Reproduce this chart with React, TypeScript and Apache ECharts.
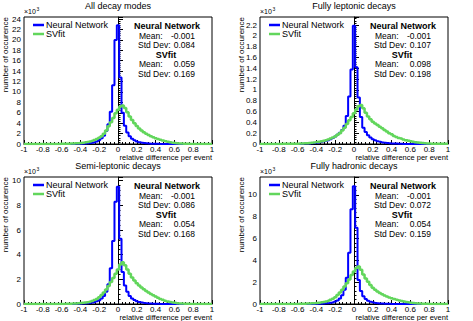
import React, { useEffect, useRef } from "react";
import * as echarts from "echarts";

// Histogram binning: 81 bins of width 0.025 centred on -1 ... 1
const BIN_MIN = -1;
const BIN_WIDTH = 0.025;

const TITLES = ["All decay modes", "Fully leptonic decays", "Semi-leptonic decays", "Fully hadronic decays"];
const SERIES_NAMES = ["Neural Network", "SVfit"];
const X_TICK_INTERVAL = 0.2;
const Y_MAX = [24.4, 2.35, 10.3, 11.65];
const Y_TICK_INTERVAL = [2, 0.2, 2, 2];

const NN_MEAN = ["-0.001", "-0.001", "-0.001", "-0.001"];
const NN_STD = ["0.084", "0.107", "0.086", "0.072"];
const SV_MEAN = ["0.059", "0.098", "0.054", "0.054"];
const SV_STD = ["0.169", "0.198", "0.168", "0.159"];

// counts in units of 10^3
const NN_ALL = [
  0, 0, 0, 0, 0, 0, 0, 0, 0, 0,
  0, 0, 0, 0, 0, 0, 0.01, 0.01, 0.01, 0.02,
  0.02, 0.02, 0.03, 0.04, 0.05, 0.07, 0.1, 0.13, 0.18, 0.25,
  0.35, 0.5, 0.75, 1.1, 1.6, 2.5, 3.8, 6.2, 11.3, 20.0,
  22.8, 12.8, 6.0, 3.5, 2.2, 1.5, 1.0, 0.7, 0.5, 0.35,
  0.25, 0.18, 0.13, 0.1, 0.07, 0.05, 0.04, 0.03, 0.02, 0.02,
  0.01, 0.01, 0.01, 0.01, 0, 0, 0, 0, 0, 0,
  0, 0, 0, 0, 0, 0, 0, 0, 0, 0,
  0,
];
const SV_ALL = [
  0, 0, 0, 0, 0, 0, 0, 0, 0, 0,
  0, 0, 0.01, 0.01, 0.02, 0.02, 0.03, 0.04, 0.05, 0.06,
  0.08, 0.1, 0.13, 0.16, 0.2, 0.25, 0.32, 0.4, 0.5, 0.63,
  0.78, 0.95, 1.2, 1.5, 1.95, 2.6, 3.4, 4.2, 5.0, 5.9,
  6.6, 7.2, 7.4, 6.9, 6.1, 5.3, 4.6, 4.0, 3.45, 3.0,
  2.6, 2.27, 1.98, 1.72, 1.5, 1.3, 1.12, 0.95, 0.8, 0.66,
  0.54, 0.43, 0.34, 0.26, 0.2, 0.15, 0.11, 0.08, 0.06, 0.04,
  0.03, 0.02, 0.02, 0.01, 0.01, 0, 0, 0, 0, 0,
  0,
];
const NN_LEP = [
  0, 0, 0, 0, 0, 0, 0, 0, 0, 0,
  0, 0, 0, 0, 0, 0, 0, 0, 0.005, 0.008,
  0.01, 0.01, 0.015, 0.02, 0.025, 0.03, 0.04, 0.05, 0.06, 0.07,
  0.09, 0.11, 0.14, 0.17, 0.21, 0.26, 0.34, 0.52, 0.88, 1.38,
  2.19, 1.42, 0.86, 0.5, 0.3, 0.22, 0.16, 0.12, 0.09, 0.07,
  0.05, 0.04, 0.03, 0.025, 0.02, 0.015, 0.01, 0.01, 0.008, 0.005,
  0.005, 0, 0, 0, 0, 0, 0, 0, 0, 0,
  0, 0, 0, 0, 0, 0, 0, 0, 0, 0,
  0,
];
const SV_LEP = [
  0, 0, 0, 0, 0, 0, 0, 0, 0, 0,
  0.003, 0.003, 0.003, 0.003, 0.004, 0.005, 0.006, 0.008, 0.01, 0.012,
  0.015, 0.02, 0.025, 0.03, 0.035, 0.042, 0.05, 0.06, 0.07, 0.085,
  0.1, 0.12, 0.14, 0.17, 0.2, 0.25, 0.3, 0.37, 0.44, 0.5,
  0.57, 0.64, 0.7, 0.72, 0.66, 0.58, 0.51, 0.46, 0.41, 0.38,
  0.35, 0.32, 0.29, 0.26, 0.23, 0.2, 0.18, 0.15, 0.13, 0.11,
  0.1, 0.085, 0.07, 0.06, 0.05, 0.04, 0.033, 0.027, 0.022, 0.017,
  0.013, 0.01, 0.008, 0.006, 0.005, 0.004, 0.003, 0.003, 0.003, 0.003,
  0.003,
];
const NN_SEMI = [
  0, 0, 0, 0, 0, 0, 0, 0, 0, 0,
  0, 0, 0, 0, 0, 0, 0, 0, 0, 0,
  0.01, 0.01, 0.02, 0.02, 0.03, 0.04, 0.05, 0.07, 0.09, 0.12,
  0.16, 0.22, 0.3, 0.45, 0.65, 1.0, 1.6, 2.9, 5.1, 8.3,
  9.5, 5.3, 2.6, 1.5, 1.0, 0.65, 0.45, 0.32, 0.23, 0.17,
  0.12, 0.09, 0.07, 0.05, 0.04, 0.03, 0.02, 0.02, 0.01, 0.01,
  0.01, 0, 0, 0, 0, 0, 0, 0, 0, 0,
  0, 0, 0, 0, 0, 0, 0, 0, 0, 0,
  0,
];
const SV_SEMI = [
  0, 0, 0, 0, 0, 0, 0, 0, 0, 0,
  0, 0, 0, 0, 0, 0, 0.01, 0.01, 0.02, 0.02,
  0.03, 0.04, 0.05, 0.06, 0.08, 0.1, 0.12, 0.15, 0.19, 0.25,
  0.32, 0.4, 0.55, 0.74, 0.94, 1.18, 1.46, 1.78, 2.1, 2.45,
  2.8, 3.2, 3.38, 3.15, 2.8, 2.45, 2.15, 1.9, 1.68, 1.5,
  1.34, 1.19, 1.05, 0.93, 0.81, 0.7, 0.6, 0.5, 0.41, 0.34,
  0.27, 0.21, 0.16, 0.13, 0.1, 0.07, 0.05, 0.04, 0.03, 0.02,
  0.015, 0.01, 0.01, 0, 0, 0, 0, 0, 0, 0,
  0,
];
const NN_HAD = [
  0, 0, 0, 0, 0, 0, 0, 0, 0, 0,
  0, 0, 0, 0, 0, 0, 0, 0, 0, 0,
  0, 0, 0.01, 0.01, 0.02, 0.02, 0.03, 0.04, 0.06, 0.08,
  0.11, 0.15, 0.22, 0.32, 0.5, 0.8, 1.3, 2.4, 4.7, 8.7,
  10.8, 7.0, 2.2, 1.2, 0.7, 0.45, 0.3, 0.2, 0.14, 0.1,
  0.07, 0.05, 0.04, 0.03, 0.02, 0.02, 0.01, 0.01, 0, 0,
  0, 0, 0, 0, 0, 0, 0, 0, 0, 0,
  0, 0, 0, 0, 0, 0, 0, 0, 0, 0,
  0,
];
const SV_HAD = [
  0, 0, 0, 0, 0, 0, 0, 0, 0, 0,
  0, 0, 0, 0, 0, 0.01, 0.01, 0.02, 0.02, 0.03,
  0.04, 0.05, 0.06, 0.08, 0.1, 0.12, 0.15, 0.19, 0.24, 0.3,
  0.38, 0.48, 0.62, 0.82, 1.05, 1.3, 1.6, 1.9, 2.25, 2.65,
  2.97, 3.3, 3.43, 3.15, 2.7, 2.35, 2.05, 1.75, 1.5, 1.3,
  1.15, 1.0, 0.89, 0.78, 0.68, 0.6, 0.52, 0.45, 0.39, 0.33,
  0.28, 0.23, 0.19, 0.15, 0.12, 0.09, 0.07, 0.05, 0.04, 0.03,
  0.02, 0.02, 0.01, 0.01, 0, 0, 0, 0, 0, 0,
  0,
];

const NN_DATA = [NN_ALL, NN_LEP, NN_SEMI, NN_HAD];
const SV_DATA = [SV_ALL, SV_LEP, SV_SEMI, SV_HAD];

const BLUE = "#0000ff";
const GREEN = "#62d65c";
const FONT = "'Liberation Sans', Arial, Helvetica, sans-serif";

export default function App() {
  const ref = useRef<HTMLDivElement>(null);

  useEffect(() => {
    if (!ref.current) return;
    const chart = echarts.init(ref.current, undefined, { renderer: "svg" });

    const OX = [0, 236, 0, 236];
    const OY = [0, 0, 160, 160];
    const GL = 24, GT = 17, GW = 188, GH = 127;

    const grids: any[] = [];
    const xAxes: any[] = [];
    const yAxes: any[] = [];
    const series: any[] = [];
    const legends: any[] = [];
    const graphics: any[] = [];

    const txt = (text: string, x: number, y: number, size: number, align: string, extra: any = {}) => {
      const { bold, ...rest } = extra;
      return {
        type: "text",
        x,
        y,
        silent: true,
        ...rest,
        style: {
          text,
          x: 0,
          y: 0,
          fill: "#000",
          fontSize: size,
          fontFamily: FONT,
          fontWeight: bold ? "bold" : "normal",
          align,
          textAlign: align,
          verticalAlign: "middle",
          textVerticalAlign: "middle",
        },
      };
    };

    for (let p = 0; p < 4; p++) {
      const ox = OX[p], oy = OY[p];
      grids.push({
        left: ox + GL,
        top: oy + GT,
        width: GW,
        height: GH,
        show: true,
        borderColor: "#000",
        borderWidth: 1,
        backgroundColor: "transparent",
      });
      xAxes.push({
        type: "value",
        gridIndex: p,
        min: -1,
        max: 1,
        interval: X_TICK_INTERVAL,
        axisLine: { show: true, onZero: false, lineStyle: { color: "#000", width: 1 } },
        axisTick: { show: true, inside: true, length: 4, lineStyle: { color: "#000", width: 1 } },
        minorTick: { show: true, splitNumber: 5, length: 2, lineStyle: { color: "#000", width: 1 } },
        splitLine: { show: false },
        minorSplitLine: { show: false },
        axisLabel: { fontSize: 8, color: "#000", margin: 1, fontFamily: FONT },
      });
      yAxes.push({
        type: "value",
        gridIndex: p,
        min: 0,
        max: Y_MAX[p],
        interval: Y_TICK_INTERVAL[p],
        axisLine: { show: true, lineStyle: { color: "#000", width: 1 } },
        axisTick: { show: true, inside: true, length: 5, lineStyle: { color: "#000", width: 1 } },
        minorTick: { show: true, splitNumber: 5, length: 2.5, lineStyle: { color: "#000", width: 1 } },
        splitLine: { show: false },
        minorSplitLine: { show: false },
        axisLabel: { fontSize: 8, color: "#000", margin: 3, showMaxLabel: false, fontFamily: FONT },
      });
      series.push({
        type: "line",
        name: SERIES_NAMES[0],
        xAxisIndex: p,
        yAxisIndex: p,
        step: "middle",
        symbol: "none",
        showSymbol: false,
        clip: true,
        z: 2,
        lineStyle: { color: BLUE, width: 2 },
        itemStyle: { color: BLUE },
        data: NN_DATA[p].map((v, i) => [BIN_MIN + i * BIN_WIDTH, v]),
      });
      series.push({
        type: "line",
        name: SERIES_NAMES[1],
        xAxisIndex: p,
        yAxisIndex: p,
        step: "middle",
        symbol: "none",
        showSymbol: false,
        clip: true,
        z: 3,
        lineStyle: { color: GREEN, width: 2.5 },
        itemStyle: { color: GREEN },
        data: SV_DATA[p].map((v, i) => [BIN_MIN + i * BIN_WIDTH, v]),
      });
      legends.push({
        orient: "vertical",
        left: ox + 33,
        top: oy + 20.5,
        padding: 0,
        itemGap: 0,
        itemWidth: 11,
        itemHeight: 2.5,
        icon: "rect",
        selectedMode: false,
        data: SERIES_NAMES,
        textStyle: { fontSize: 9, lineHeight: 9, color: "#000", fontFamily: FONT, padding: [0, 0, 0, -3] },
      });

      // title
      graphics.push(txt(TITLES[p], ox + 118, oy + 6, 9, "center"));
      // x10^3
      graphics.push(txt("×10", ox + 24, oy + 11.5, 7, "left"));
      graphics.push(txt("3", ox + 36.5, oy + 8.5, 5, "left"));
      // axis names
      graphics.push(txt("number of occurence", ox + 5, oy + 17, 8, "right", { rotation: Math.PI / 2 }));
      graphics.push(txt("relative difference per event", ox + 212, oy + 157, 7.5, "right"));
      // stats
      graphics.push(txt(SERIES_NAMES[0], ox + 167, oy + 26, 9, "center", { bold: true }));
      graphics.push(txt("Mean:", ox + 139, oy + 35.5, 8.5, "left"));
      graphics.push(txt(NN_MEAN[p], ox + 195, oy + 35.5, 8.5, "right"));
      graphics.push(txt("Std Dev:", ox + 138, oy + 45, 8.5, "left"));
      graphics.push(txt(NN_STD[p], ox + 195, oy + 45, 8.5, "right"));
      graphics.push(txt(SERIES_NAMES[1], ox + 166, oy + 54.5, 9, "center", { bold: true }));
      graphics.push(txt("Mean:", ox + 139, oy + 64, 8.5, "left"));
      graphics.push(txt(SV_MEAN[p], ox + 195, oy + 64, 8.5, "right"));
      graphics.push(txt("Std Dev:", ox + 138, oy + 73.5, 8.5, "left"));
      graphics.push(txt(SV_STD[p], ox + 195, oy + 73.5, 8.5, "right"));
    }

    chart.setOption({
      animation: false,
      backgroundColor: "#fff",
      textStyle: { fontFamily: FONT },
      grid: grids,
      xAxis: xAxes,
      yAxis: yAxes,
      legend: legends,
      series,
      graphic: graphics,
    });

    return () => chart.dispose();
  }, []);

  return (
    <div
      ref={ref}
      style={{ position: "fixed", left: 0, top: 0, width: 473, height: 321, background: "#fff" }}
    />
  );
}
